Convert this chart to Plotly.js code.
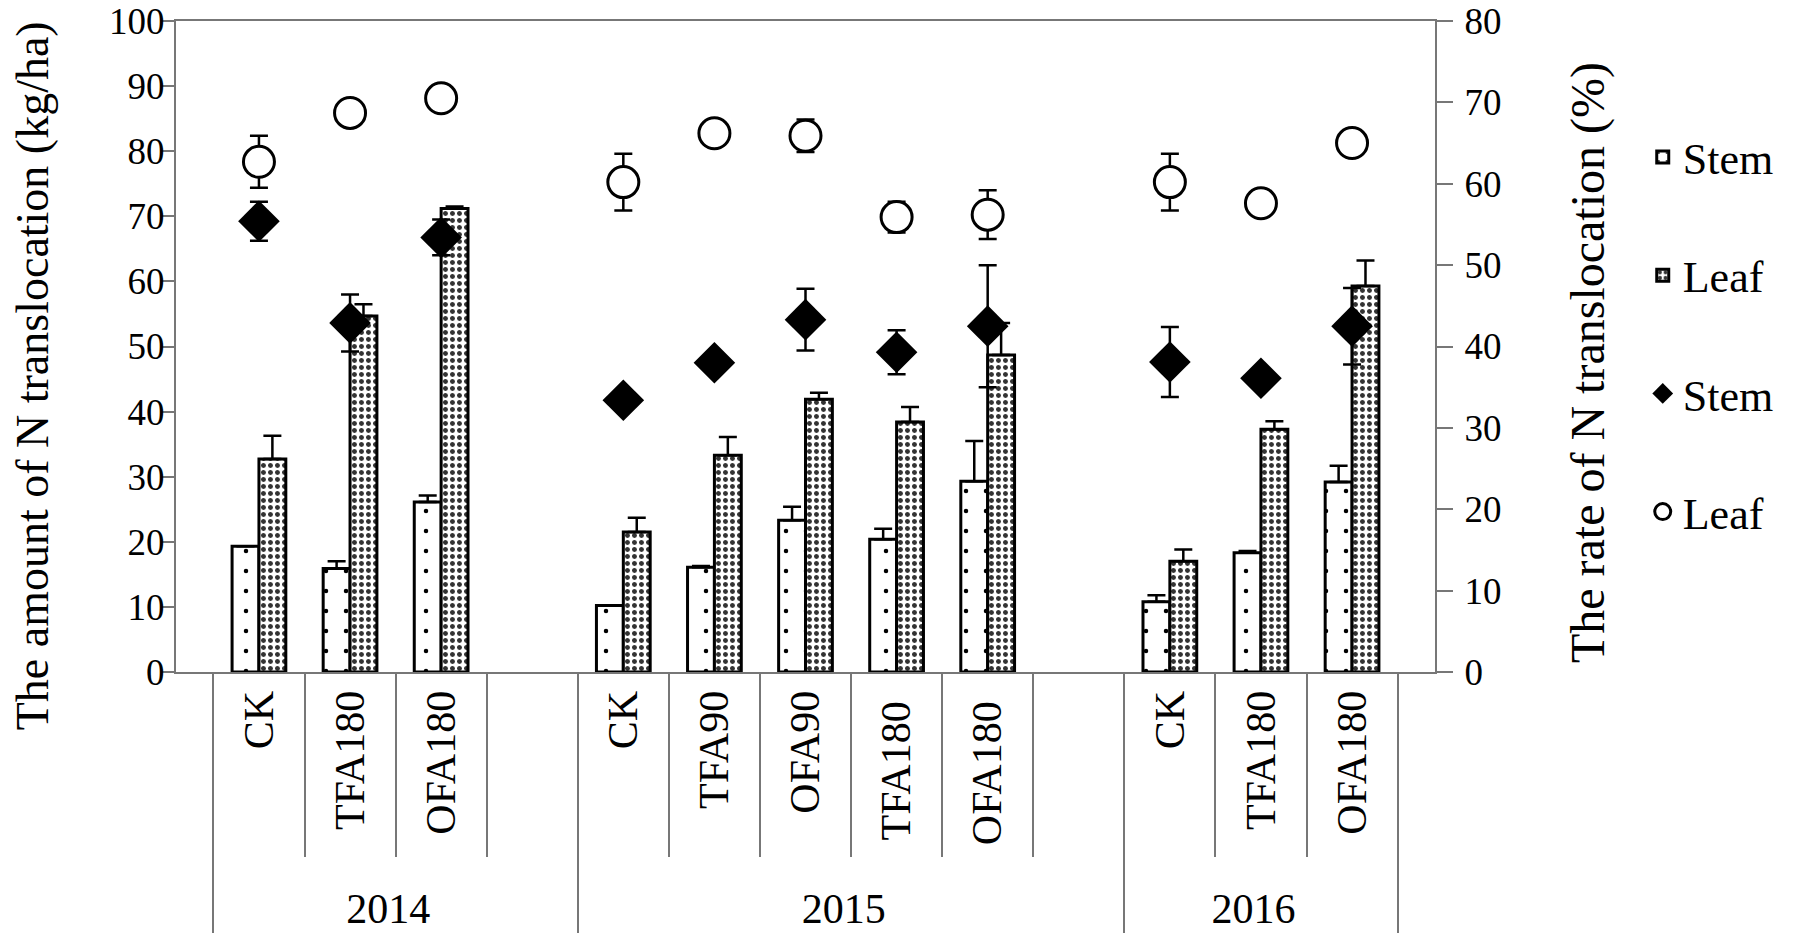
<!DOCTYPE html>
<html>
<head>
<meta charset="utf-8">
<script src="https://cdn.plot.ly/plotly-3.0.1.min.js"></script>
<style>
  html, body { margin: 0; padding: 0; background: #fff; }
  #chart { width: 1800px; height: 937px; }
</style>
</head>
<body>
<div id="chart"></div>
<script>
// categories (outer = year, inner = treatment); blank slots as in the original.
// 2015 repeats of TFA180/OFA180 and the 2015 blank get a trailing space so that
// plotly keeps their order inside the year group (trailing spaces are not drawn)
var years = ['2014','2014','2014','2014',
             '2015','2015','2015','2015','2015','2015',
             '2016','2016','2016'];
var treatments = ['CK','TFA180','OFA180',' ',
                  'CK','TFA90','OFA90','TFA180 ','OFA180 ','  ',
                  'CK','TFA180','OFA180'];

// amount of N translocation (kg/ha), left axis
var stemAmount = [19.3, 15.9, 26.1, null, 10.2, 16.1, 23.3, 20.4, 29.3, null, 10.8, 18.3, 29.2];
var stemAmountErr = [NaN, 1.1, 1.0, NaN, NaN, 0.2, 2.1, 1.6, 6.2, NaN, 1.0, 0.3, 2.5];
var leafAmount = [32.7, 54.7, 71.2, null, 21.5, 33.3, 41.9, 38.4, 48.7, null, 17.0, 37.3, 59.3];
var leafAmountErr = [3.6, 1.8, 0.3, NaN, 2.2, 2.8, 1.0, 2.3, 4.9, NaN, 1.8, 1.2, 3.9];

// rate of N translocation (%), right axis
var stemRate = [55.4, 42.9, 53.4, null, 33.4, 38.0, 43.3, 39.3, 42.5, null, 38.1, 36.1, 42.5];
var stemRateErr = [2.4, 3.5, 2.2, NaN, 0.5, 1.2, 3.8, 2.7, 7.5, NaN, 4.3, 0.8, 4.7];
var leafRate = [62.7, 68.7, 70.5, null, 60.2, 66.2, 65.9, 55.9, 56.2, null, 60.2, 57.6, 65.0];
var leafRateErr = [3.2, NaN, NaN, NaN, 3.5, NaN, 2.0, 1.9, 3.0, NaN, 3.5, NaN, NaN];

var leftTitle = 'The amount of N translocation (kg/ha)';
var rightTitle = 'The rate of N translocation (%)';

var zeros = treatments.map(function () { return 0; });
var font = 'Liberation Serif, Times New Roman, serif';

var trace1 = {
  x: [years, treatments],
  y: stemAmount,
  name: 'Stem',
  type: 'bar',
  legendgroup: 'a',
  marker: {
    color: 'white',
    line: {color: 'black', width: 3},
    pattern: {shape: '.', fgcolor: 'black', bgcolor: 'white', size: 20, solidity: 0.04}
  },
  error_y: {type: 'data', array: stemAmountErr, arrayminus: zeros, symmetric: false,
            color: 'black', thickness: 2.5, width: 9}
};

var trace2 = {
  x: [years, treatments],
  y: leafAmount,
  name: 'Leaf',
  type: 'bar',
  legendgroup: 'b',
  marker: {
    color: 'white',
    line: {color: 'black', width: 3},
    pattern: {shape: '.', fgcolor: '#333', bgcolor: 'white', size: 7, solidity: 0.4}
  },
  error_y: {type: 'data', array: leafAmountErr, arrayminus: zeros, symmetric: false,
            color: 'black', thickness: 2.5, width: 9}
};

var trace3 = {
  x: [years, treatments],
  y: stemRate,
  name: 'Stem',
  type: 'scatter',
  mode: 'markers',
  yaxis: 'y2',
  legendgroup: 'c',
  marker: {symbol: 'diamond', size: 32, color: 'black'},
  error_y: {type: 'data', array: stemRateErr, color: 'black', thickness: 2.5, width: 9}
};

// white-filled circles so the error bar does not show through the marker
var trace4 = {
  x: [years, treatments],
  y: leafRate,
  name: 'Leaf',
  type: 'scatter',
  mode: 'markers',
  yaxis: 'y2',
  legendgroup: 'd',
  marker: {symbol: 'circle', size: 31, color: 'white', line: {color: 'black', width: 3}},
  error_y: {type: 'data', array: leafRateErr, color: 'black', thickness: 2.5, width: 9}
};

var data = [trace1, trace2, trace3, trace4];

var layout = {
  width: 1800,
  height: 937,
  margin: {l: 176, r: 365, t: 21, b: 265},
  paper_bgcolor: 'white',
  plot_bgcolor: 'white',
  font: {family: font, color: 'black', size: 38},
  barmode: 'group',
  bargap: 0.41,
  bargroupgap: 0,
  showlegend: true,
  legend: {
    x: 1.165, y: 0.845, xanchor: 'left', yanchor: 'top',
    font: {family: font, size: 44, color: 'black'},
    tracegroupgap: 58,
    bgcolor: 'rgba(0,0,0,0)'
  },
  xaxis: {
    type: 'multicategory',
    showline: true, linecolor: '#777', linewidth: 2, mirror: true,
    ticks: 'outside', tickson: 'boundaries', ticklen: 183, tickcolor: '#777', tickwidth: 2,
    tickangle: -90,
    tickfont: {family: font, size: 42, color: 'black'},
    showdividers: true, dividercolor: '#777', dividerwidth: 2,
    showgrid: false, zeroline: false
  },
  yaxis: {
    range: [0, 100], dtick: 10,
    showline: true, linecolor: '#777', linewidth: 2,
    ticks: 'outside', ticklen: 12, tickcolor: '#777', tickwidth: 2,
    ticklabelstandoff: -10,
    tickfont: {family: font, size: 37, color: 'black'},
    showgrid: false, zeroline: false
  },
  yaxis2: {
    range: [0, 80], dtick: 10,
    overlaying: 'y', side: 'right',
    showline: true, linecolor: '#777', linewidth: 2,
    ticks: 'outside', ticklen: 16, tickcolor: '#777', tickwidth: 2,
    ticklabelstandoff: 4,
    tickfont: {family: font, size: 37, color: 'black'},
    showgrid: false, zeroline: false
  },
  // axis titles placed as in the original (slightly below the plot centre)
  annotations: [
    {text: leftTitle, xref: 'paper', yref: 'paper', x: -0.114, y: 0.455,
     xanchor: 'center', yanchor: 'middle', textangle: -90, showarrow: false,
     font: {family: font, size: 46, color: 'black'}},
    {text: rightTitle, xref: 'paper', yref: 'paper', x: 1.1215, y: 0.476,
     xanchor: 'center', yanchor: 'middle', textangle: -90, showarrow: false,
     font: {family: font, size: 48, color: 'black'}}
  ]
};

Plotly.newPlot('chart', data, layout, {displayModeBar: false, staticPlot: true});
</script>
</body>
</html>
